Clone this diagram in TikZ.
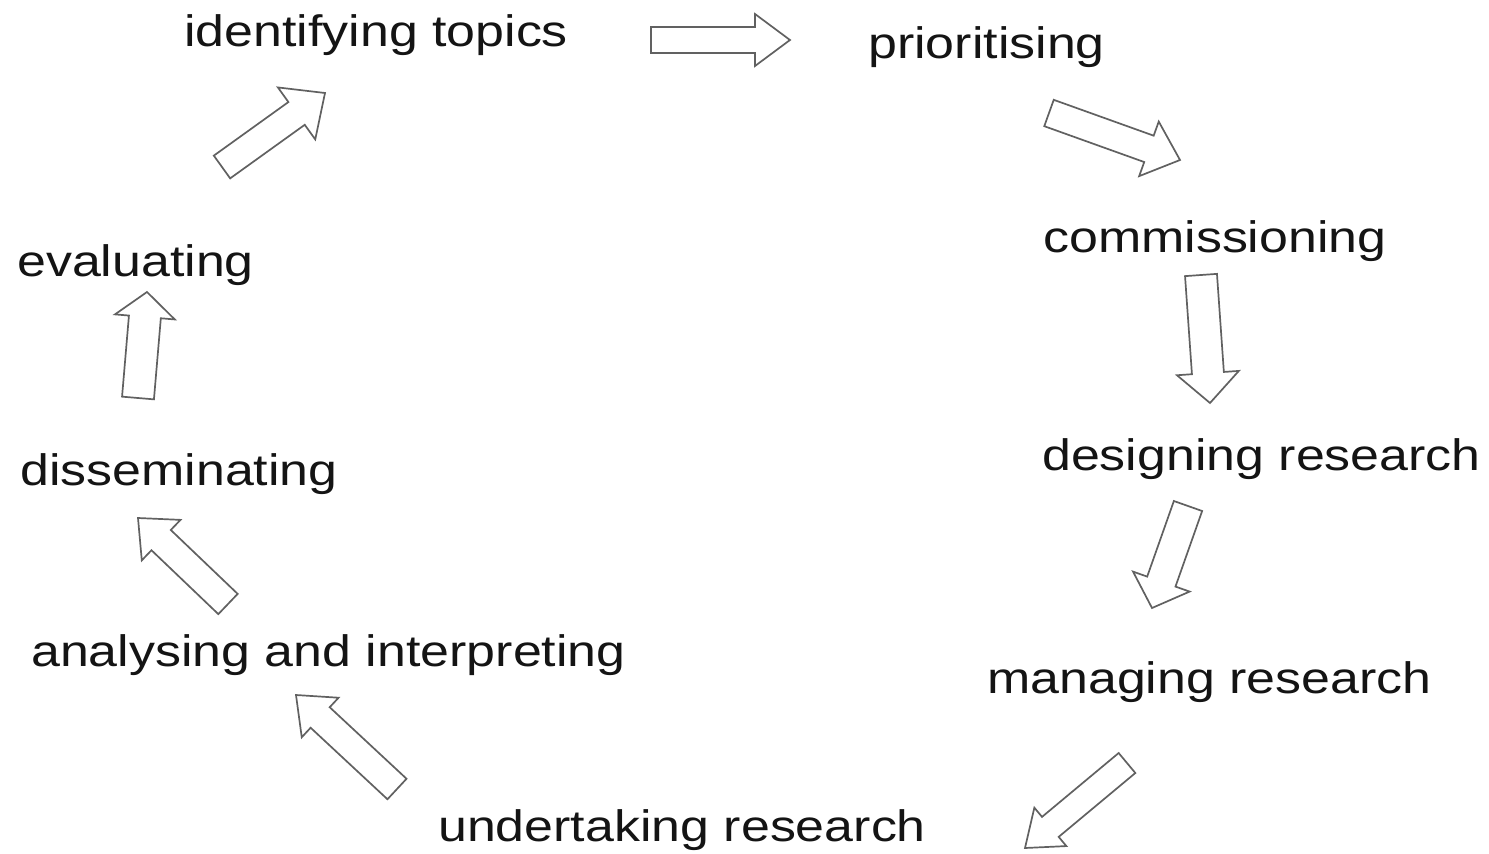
\documentclass[tikz,border=0pt]{standalone}
\usepackage{fontspec}
\setmainfont{Liberation Sans}[FakeStretch=1.18]
\usetikzlibrary{calc}
\tikzset{
  lbl/.style={anchor=base west, inner sep=0pt, text=black!92, font=\fontsize{44}{52}\selectfont},
  blk/.style={draw=black!62, line width=1.7pt, line join=miter, fill=white}
}
\newcommand\blockarrow[5]{%
  \coordinate (hb) at ($(#2)!#5pt!(#1)$);
  \draw[blk] ($(#1)!#3pt!90:(#2)$) -- ($(hb)!#3pt!90:(#2)$) -- ($(hb)!#4pt!90:(#2)$) -- (#2)
    -- ($(hb)!#4pt!-90:(#2)$) -- ($(hb)!#3pt!-90:(#2)$) -- ($(#1)!#3pt!-90:(#2)$) -- cycle;}
\begin{document}
\begin{tikzpicture}[x=1pt,y=-1pt]
\useasboundingbox[fill=white] (0,0) rectangle (1489,854);
% labels
\node[lbl] (ident) at (184,46) {identifying topics};
\node[lbl] (prior) at (868,58) {prioritising};
\node[lbl] (comm) at (1043,252) {commissioning};
\node[lbl] (design) at (1042,470) {designing research};
\node[lbl] (manag) at (987,693) {managing research};
\node[lbl] (under) at (438,841) {undertaking research};
\node[lbl] (anal) at (31,666) {analysing and interpreting};
\node[lbl] (dissem) at (20,485) {disseminating};
\node[lbl] (eval) at (17,276) {evaluating};
% arrow end points
\coordinate (a1s) at (651,40);   \coordinate (a1e) at (790,40);
\coordinate (a2s) at (1049,113); \coordinate (a2e) at (1180,160);
\coordinate (a3s) at (1201,275); \coordinate (a3e) at (1210,403);
\coordinate (a4s) at (1188,506); \coordinate (a4e) at (1152,608);
\coordinate (a5s) at (1127,763); \coordinate (a5e) at (1025,848);
\coordinate (a6s) at (397,789);  \coordinate (a6e) at (296,695);
\coordinate (a7s) at (228,604);  \coordinate (a7e) at (138,518);
\coordinate (a8s) at (138,398);  \coordinate (a8e) at (147,292);
\coordinate (a9s) at (222,167);  \coordinate (a9e) at (325,93);
% block arrows
\blockarrow{a1s}{a1e}{13}{26}{35}
\blockarrow{a2s}{a2e}{14}{29}{33}
\blockarrow{a3s}{a3e}{16}{31}{30}
\blockarrow{a4s}{a4e}{15}{30}{28}
\blockarrow{a5s}{a5e}{13}{25}{33}
\blockarrow{a6s}{a6e}{14}{27}{33}
\blockarrow{a7s}{a7e}{14}{28}{32}
\blockarrow{a8s}{a8e}{16}{30}{25}
\blockarrow{a9s}{a9e}{14}{32}{35}
\end{tikzpicture}
\end{document}
